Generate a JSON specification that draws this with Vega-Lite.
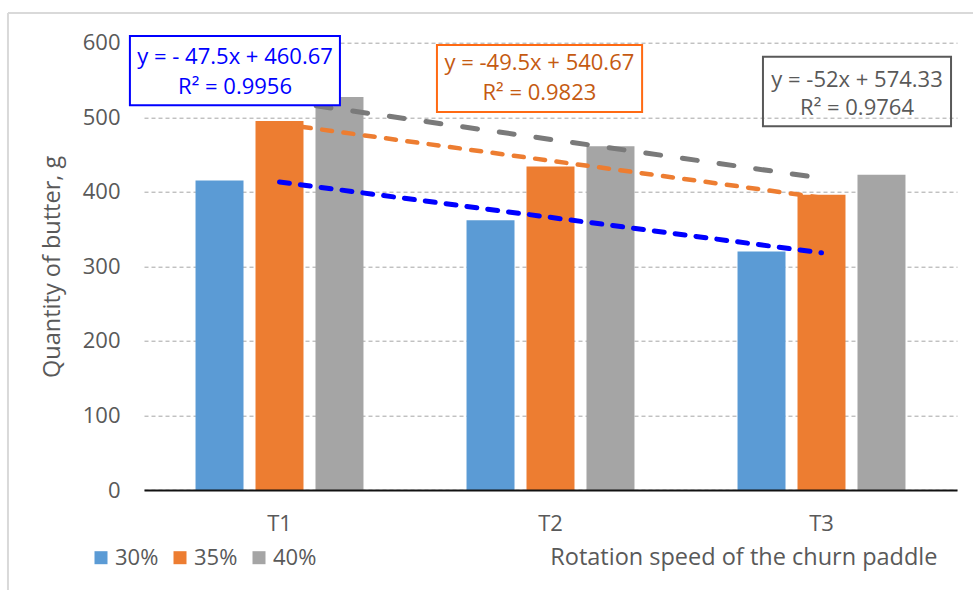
{
  "$schema": "https://vega.github.io/schema/vega-lite/v6.json",
  "width": 813,
  "height": 447.3,
  "autosize": {"type": "none"},
  "padding": {"left": 144, "top": 42.7, "right": 16, "bottom": 100},
  "background": "white",
  "config": {"font": "Open Sans", "view": {"stroke": null}},
  "datasets": {
    "bars": [
      {"category": "T1", "series": "30%", "value": 415},
      {"category": "T1", "series": "35%", "value": 495},
      {"category": "T1", "series": "40%", "value": 527},
      {"category": "T2", "series": "30%", "value": 362},
      {"category": "T2", "series": "35%", "value": 434},
      {"category": "T2", "series": "40%", "value": 461},
      {"category": "T3", "series": "30%", "value": 320},
      {"category": "T3", "series": "35%", "value": 396},
      {"category": "T3", "series": "40%", "value": 423}
    ],
    "trend": [
      {"category": "T1", "series": "30%", "value": 413.17},
      {"category": "T3", "series": "30%", "value": 318.17},
      {"category": "T1", "series": "35%", "value": 491.17},
      {"category": "T3", "series": "35%", "value": 392.17},
      {"category": "T1", "series": "40%", "value": 522.33},
      {"category": "T3", "series": "40%", "value": 418.33}
    ]
  },
  "layer": [
    {
      "layer": [
        {
          "data": {"name": "bars"},
          "mark": {"type": "bar"},
          "encoding": {
            "x": {
              "field": "category", "type": "nominal",
              "scale": {"paddingInner": 0.336, "paddingOuter": 0.168},
              "title": "Rotation speed of the churn paddle",
              "axis": {
                "domain": true, "domainColor": "#111111", "domainWidth": 2,
                "ticks": false, "tickSize": 0, "labelPadding": 40, "labelBaseline": "alphabetic",
                "labelFontSize": 22, "labelColor": "#595959", "labelAngle": 0, "grid": false,
                "titleX": 793, "titleY": 74, "titleAlign": "right", "titleBaseline": "alphabetic",
                "titleFontSize": 23.5, "titleColor": "#595959", "titleFontWeight": "normal", "zindex": 1
              }
            },
            "xOffset": {"field": "series", "type": "nominal", "scale": {"paddingInner": 0.2, "paddingOuter": 0.1}},
            "y": {
              "field": "value", "type": "quantitative",
              "scale": {"domain": [0, 600], "nice": false},
              "title": "Quantity of butter, g",
              "axis": {
                "values": [0, 100, 200, 300, 400, 500, 600],
                "grid": true, "gridColor": "#A6A6A6", "gridDash": [4, 3], "gridWidth": 1,
                "domain": false, "ticks": false, "tickSize": 0, "labelPadding": 24,
                "labelFontSize": 22, "labelColor": "#595959",
                "titleFontSize": 23.5, "titleColor": "#595959", "titleFontWeight": "normal",
                "titleX": -85, "titleY": 223.65, "titleBaseline": "alphabetic", "titleAngle": -90, "titleAlign": "center"
              }
            },
            "color": {
              "field": "series", "type": "nominal",
              "scale": {"domain": ["30%", "35%", "40%"], "range": ["#5B9BD5", "#ED7D31", "#A5A5A5"]},
              "legend": {
                "orient": "none", "legendX": -54, "legendY": 504, "direction": "horizontal", "title": null,
                "symbolType": "square", "symbolSize": 169, "symbolStrokeWidth": 0,
                "labelFontSize": 22, "labelColor": "#595959", "labelOffset": 3, "columnPadding": 10, "padding": 0
              }
            }
          }
        },
        {
          "data": {"name": "trend"},
          "transform": [{"filter": "datum.series === '40%'"}],
          "mark": {"type": "line", "color": "#7A7A7A", "strokeWidth": 5, "strokeDash": [15, 22], "strokeCap": "round"},
          "encoding": {
            "x": {"field": "category", "type": "nominal", "title": "Rotation speed of the churn paddle"},
            "y": {"field": "value", "type": "quantitative", "title": "Quantity of butter, g"}
          }
        },
        {
          "data": {"name": "trend"},
          "transform": [{"filter": "datum.series === '35%'"}],
          "mark": {"type": "line", "color": "#ED7D31", "strokeWidth": 4.5, "strokeDash": [10, 11.5], "strokeCap": "round"},
          "encoding": {
            "x": {"field": "category", "type": "nominal", "title": "Rotation speed of the churn paddle"},
            "y": {"field": "value", "type": "quantitative", "title": "Quantity of butter, g"}
          }
        },
        {
          "data": {"name": "trend"},
          "transform": [{"filter": "datum.series === '30%'"}],
          "mark": {"type": "line", "color": "#0000FF", "strokeWidth": 5, "strokeDash": [10, 11], "strokeCap": "round"},
          "encoding": {
            "x": {"field": "category", "type": "nominal", "title": "Rotation speed of the churn paddle"},
            "y": {"field": "value", "type": "quantitative", "title": "Quantity of butter, g"}
          }
        }
      ]
    },
    {
      "data": {"values": [{}]},
      "layer": [
        {
          "mark": {"type": "rule", "color": "#D9D9D9", "strokeWidth": 2},
          "encoding": {
            "x": {"datum": -0.502, "type": "quantitative", "scale": {"domain": [0, 3], "nice": false, "zero": false}, "axis": null},
            "y": {"datum": -200, "type": "quantitative", "scale": {"domain": [0, 600], "nice": false, "zero": false}, "axis": null},
            "y2": {"datum": 639.8}
          }
        },
        {
          "mark": {"type": "rule", "color": "#D9D9D9", "strokeWidth": 2},
          "encoding": {
            "x": {"datum": -0.502, "type": "quantitative", "axis": null},
            "x2": {"datum": 3.5},
            "y": {"datum": 639.8, "type": "quantitative", "axis": null}
          }
        },
        {
          "mark": {"type": "rect", "fill": "white", "stroke": "#0000FF", "strokeWidth": 2},
          "encoding": {
            "x": {"datum": -0.052, "type": "quantitative", "axis": null},
            "x2": {"datum": 0.723},
            "y": {"datum": 609, "type": "quantitative", "axis": null},
            "y2": {"datum": 516}
          }
        },
        {
          "mark": {"type": "rect", "fill": "white", "stroke": "#FF6A13", "strokeWidth": 2},
          "encoding": {
            "x": {"datum": 1.081, "type": "quantitative", "axis": null},
            "x2": {"datum": 1.838},
            "y": {"datum": 597, "type": "quantitative", "axis": null},
            "y2": {"datum": 507}
          }
        },
        {
          "mark": {"type": "rect", "fill": null, "stroke": "#595959", "strokeWidth": 2},
          "encoding": {
            "x": {"datum": 2.284, "type": "quantitative", "axis": null},
            "x2": {"datum": 2.978},
            "y": {"datum": 581, "type": "quantitative", "axis": null},
            "y2": {"datum": 488}
          }
        },
        {
          "mark": {"type": "text", "fontSize": 22, "color": "#0000FF", "baseline": "middle", "align": "center"},
          "encoding": {
            "x": {"datum": 0.336, "type": "quantitative", "axis": null},
            "y": {"datum": 580.8, "type": "quantitative", "axis": null},
            "text": {"value": "y = - 47.5x + 460.67"}
          }
        },
        {
          "mark": {"type": "text", "fontSize": 22, "color": "#0000FF", "baseline": "middle", "align": "center"},
          "encoding": {
            "x": {"datum": 0.336, "type": "quantitative", "axis": null},
            "y": {"datum": 540.6, "type": "quantitative", "axis": null},
            "text": {"value": "R² = 0.9956"}
          }
        },
        {
          "mark": {"type": "text", "fontSize": 22, "color": "#C55A11", "baseline": "middle", "align": "center"},
          "encoding": {
            "x": {"datum": 1.459, "type": "quantitative", "axis": null},
            "y": {"datum": 572.4, "type": "quantitative", "axis": null},
            "text": {"value": "y = -49.5x + 540.67"}
          }
        },
        {
          "mark": {"type": "text", "fontSize": 22, "color": "#C55A11", "baseline": "middle", "align": "center"},
          "encoding": {
            "x": {"datum": 1.459, "type": "quantitative", "axis": null},
            "y": {"datum": 532.1, "type": "quantitative", "axis": null},
            "text": {"value": "R² = 0.9823"}
          }
        },
        {
          "mark": {"type": "text", "fontSize": 22, "color": "#595959", "baseline": "middle", "align": "center"},
          "encoding": {
            "x": {"datum": 2.631, "type": "quantitative", "axis": null},
            "y": {"datum": 550.0, "type": "quantitative", "axis": null},
            "text": {"value": "y = -52x + 574.33"}
          }
        },
        {
          "mark": {"type": "text", "fontSize": 22, "color": "#595959", "baseline": "middle", "align": "center"},
          "encoding": {
            "x": {"datum": 2.631, "type": "quantitative", "axis": null},
            "y": {"datum": 512.4, "type": "quantitative", "axis": null},
            "text": {"value": "R² = 0.9764"}
          }
        }
      ]
    }
  ],
  "resolve": {"scale": {"x": "independent", "y": "independent"}}
}
